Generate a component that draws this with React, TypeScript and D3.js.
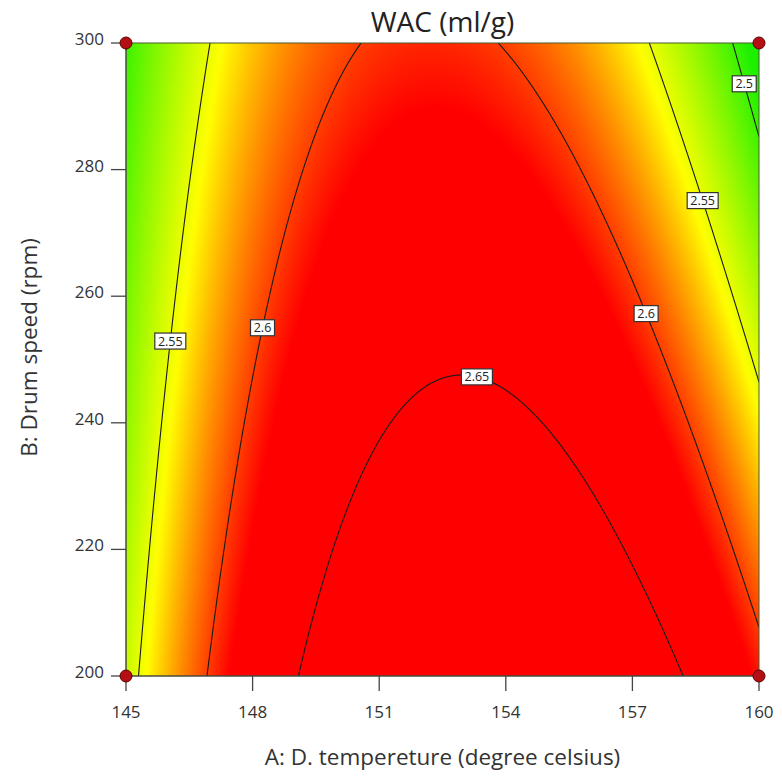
import React, { useMemo } from "react";
import * as d3 from "d3";

// ---- data ----
const chartTitle = "WAC (ml/g)";
const xTitle = "A: D. tempereture (degree celsius)";
const yTitle = "B: Drum speed (rpm)";
const tempDomain = [145, 160];
const speedDomain = [200, 300];
const tempTicks = [145, 148, 151, 154, 157, 160];
const speedTicks = [200, 220, 240, 260, 280, 300];
// fitted quadratic model in coded units (A, B): b0, A, B, AB, A^2, B^2
const intercept = 2.6475;
const linearTerms = [0.0129, -0.0423];
const interactionTerms = [-0.0222];
const quadraticTerms = [-0.115, 0];
const contourLevels = [2.5, 2.55, 2.6, 2.65];
const labelLevels = [2.55, 2.6, 2.65, 2.6, 2.55, 2.5];
const labelTemps = [146.0, 148.2, 153.4, 157.4, 158.7, 159.7];
const labelSpeeds = [252.8, 255.1, 249.5, 257.5, 275.2, 293.7];
const designTemps = [145, 145, 160, 160];
const designSpeeds = [200, 300, 200, 300];
const colorDomain = [2.49, 2.556, 2.614];
const colorRange = ["#1cf000", "#ffff00", "#ff0000"];

const W = 782;
const H = 776;
const M = { left: 126, right: 759, top: 43, bottom: 676 };

const code = (t: number, s: number) => [
  (t - (tempDomain[0] + tempDomain[1]) / 2) / ((tempDomain[1] - tempDomain[0]) / 2),
  (s - (speedDomain[0] + speedDomain[1]) / 2) / ((speedDomain[1] - speedDomain[0]) / 2),
];

function model(t: number, s: number) {
  const [a, b] = code(t, s);
  return (
    intercept +
    linearTerms[0] * a +
    linearTerms[1] * b +
    interactionTerms[0] * a * b +
    quadraticTerms[0] * a * a +
    quadraticTerms[1] * b * b
  );
}

// speed on a contour for a given temperature
function speedAt(level: number, t: number): number | null {
  const [a] = code(t, 250);
  const c2 = quadraticTerms[1];
  const c1 = linearTerms[1] + interactionTerms[0] * a;
  const c0 = intercept + linearTerms[0] * a + quadraticTerms[0] * a * a - level;
  let b: number;
  if (Math.abs(c2) < 1e-9) {
    b = -c0 / c1;
  } else {
    const disc = c1 * c1 - 4 * c2 * c0;
    if (disc < 0) return null;
    const r1 = (-c1 + Math.sqrt(disc)) / (2 * c2);
    const r2 = (-c1 - Math.sqrt(disc)) / (2 * c2);
    b = Math.abs(r1) < Math.abs(r2) ? r1 : r2;
  }
  return 250 + b * 50;
}

export default function App() {
  const x = d3.scaleLinear().domain(tempDomain).range([M.left, M.right]);
  const y = d3.scaleLinear().domain(speedDomain).range([M.bottom, M.top]);
  const color = d3
    .scaleLinear<string>()
    .domain(colorDomain)
    .range(colorRange)
    .interpolate(d3.interpolateRgb)
    .clamp(true);

  const heatUrl = useMemo(() => {
    const N = 200;
    const canvas = document.createElement("canvas");
    canvas.width = N;
    canvas.height = N;
    const ctx = canvas.getContext("2d");
    if (!ctx) return "";
    const img = ctx.createImageData(N, N);
    for (let j = 0; j < N; j++) {
      const s = speedDomain[1] - ((j + 0.5) / N) * (speedDomain[1] - speedDomain[0]);
      for (let i = 0; i < N; i++) {
        const t = tempDomain[0] + ((i + 0.5) / N) * (tempDomain[1] - tempDomain[0]);
        const c = d3.rgb(color(model(t, s)));
        const k = (j * N + i) * 4;
        img.data[k] = c.r;
        img.data[k + 1] = c.g;
        img.data[k + 2] = c.b;
        img.data[k + 3] = 255;
      }
    }
    ctx.putImageData(img, 0, 0);
    return canvas.toDataURL();
  }, []);

  const contours = contourLevels.map((level) => {
    const pts: [number, number][] = [];
    const n = 3000;
    for (let i = 0; i <= n; i++) {
      const t = tempDomain[0] + (i / n) * (tempDomain[1] - tempDomain[0]);
      const s = speedAt(level, t);
      pts.push([t, s === null ? NaN : s]);
    }
    return { level, pts };
  });

  const line = d3
    .line<[number, number]>()
    .defined((d) => !isNaN(d[1]) && d[1] >= speedDomain[0] - 5 && d[1] <= speedDomain[1] + 5)
    .x((d) => x(d[0]))
    .y((d) => y(d[1]));

  const labels = labelLevels.map((level, i) => {
    const c = contours.find((cc) => cc.level === level)!;
    const tx = x(labelTemps[i]);
    const ty = y(labelSpeeds[i]);
    let best = [tx, ty];
    let bd = Infinity;
    for (const p of c.pts) {
      if (isNaN(p[1]) || p[1] < speedDomain[0] || p[1] > speedDomain[1]) continue;
      const px = x(p[0]);
      const py = y(p[1]);
      const dd = (px - tx) ** 2 + (py - ty) ** 2;
      if (dd < bd) {
        bd = dd;
        best = [px, py];
      }
    }
    const text = String(level);
    const w = text.length * 7 + 3;
    return { text, cx: best[0], cy: best[1], w };
  });

  const font = "'Open Sans', 'Noto Sans', sans-serif";

  return (
    <svg
      width={W}
      height={H}
      style={{ position: "absolute", left: 0, top: 0, background: "#fff" }}
      fontFamily={font}
    >
      <defs>
        <clipPath id="plotClip">
          <rect x={M.left} y={M.top} width={M.right - M.left} height={M.bottom - M.top} />
        </clipPath>
      </defs>
      <text x={(M.left + M.right) / 2} y={32} textAnchor="middle" fontSize={28} fill="#222">
        {chartTitle}
      </text>
      {heatUrl && (
        <image
          href={heatUrl}
          x={M.left}
          y={M.top}
          width={M.right - M.left}
          height={M.bottom - M.top}
          preserveAspectRatio="none"
        />
      )}
      <g clipPath="url(#plotClip)">
        {contours.map((c) => (
          <path key={c.level} d={line(c.pts) || ""} fill="none" stroke="#1a1a1a" strokeWidth={1.1} />
        ))}
      </g>
      <rect
        x={M.left}
        y={M.top}
        width={M.right - M.left}
        height={M.bottom - M.top}
        fill="none"
        stroke="#4a5a30"
        strokeWidth={1}
      />
      {labels.map((l, i) => (
        <g key={i}>
          <rect
            x={l.cx - l.w / 2}
            y={l.cy - 8}
            width={l.w}
            height={16}
            fill="#fff"
            stroke="#333"
            strokeWidth={1.2}
          />
          <text x={l.cx} y={l.cy + 4.5} textAnchor="middle" fontSize={12.5} fill="#222">
            {l.text}
          </text>
        </g>
      ))}
      {/* left axis */}
      <line x1={M.left} x2={M.left} y1={M.top} y2={M.bottom} stroke="#444" />
      {speedTicks.map((s) => (
        <g key={s}>
          <line x1={M.left - 15} x2={M.left} y1={y(s)} y2={y(s)} stroke="#444" strokeWidth={1.3} />
          <text x={M.left - 22} y={y(s) + 2} textAnchor="end" fontSize={17} fill="#333">
            {s}
          </text>
        </g>
      ))}
      {/* bottom axis */}
      <line x1={M.left} x2={M.right} y1={M.bottom} y2={M.bottom} stroke="#444" />
      {tempTicks.map((t) => (
        <g key={t}>
          <line x1={x(t)} x2={x(t)} y1={M.bottom} y2={M.bottom + 15} stroke="#444" strokeWidth={1.3} />
          <text x={x(t)} y={718} textAnchor="middle" fontSize={17} fill="#333">
            {t}
          </text>
        </g>
      ))}
      <text x={(M.left + M.right) / 2} y={765} textAnchor="middle" fontSize={22.5} fill="#333">
        {xTitle}
      </text>
      <text
        transform={`translate(37, ${(M.top + M.bottom) / 2 - 12}) rotate(-90)`}
        textAnchor="middle"
        fontSize={22.5}
        fill="#333"
      >
        {yTitle}
      </text>
      {designTemps.map((t, i) => (
        <circle key={i} cx={x(t)} cy={y(designSpeeds[i])} r={6} fill="#b30f14" stroke="#5a0000" strokeWidth={1} />
      ))}
    </svg>
  );
}
